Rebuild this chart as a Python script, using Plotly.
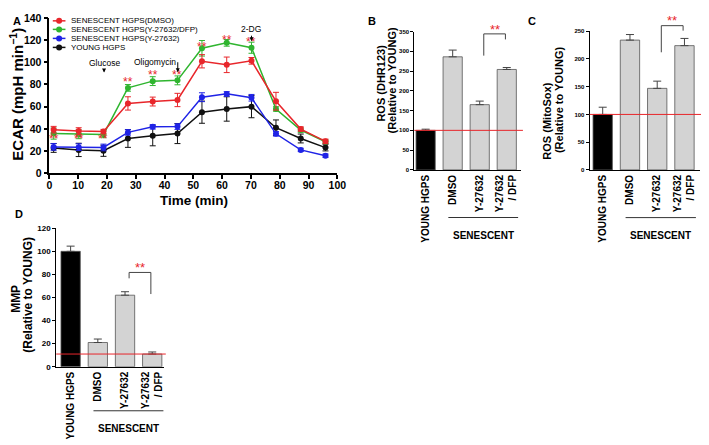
import plotly.graph_objects as go

# Panel A: ECAR time course
time_min = [1.5, 10.2, 18.8, 27.3, 35.9, 44.5, 53.0, 61.6, 70.2, 78.7, 87.3, 95.9]
ecar_dmso = [39.2, 38.0, 37.5, 62.9, 64.6, 66.0, 100.9, 97.7, 101.3, 64.9, 39.8, 28.7]
ecar_dmso_err = [3, 3, 2, 6, 4, 6, 6, 7, 3, 8, 2, 2]
ecar_dfp = [35.7, 35.1, 35.0, 76.9, 83.0, 83.7, 112.6, 117.5, 113.1, 57.9, 38.9, 28.4]
ecar_dfp_err = [5, 4, 3, 3, 4, 4, 7, 3, 5, 2, 2, 1.5]
ecar_y27632 = [23.7, 23.5, 23.2, 36.8, 41.8, 42.0, 68.5, 71.5, 68.0, 35.5, 21.0, 15.8]
ecar_y27632_err = [3, 3, 3, 2.5, 2, 2.5, 4, 2, 3, 2, 1.5, 1.5]
ecar_young = [22.8, 21.0, 20.2, 31.3, 33.7, 35.7, 55.0, 57.9, 60.0, 41.0, 31.3, 23.1]
ecar_young_err = [4, 6, 5, 8, 9, 9, 10, 11, 10, 7, 4, 3]
star_y = [31.0, 31.0, 31.0, 82.5, 88.5, 88.5, 113.5, 120.0, 118.0]

inject_labels = ['Glucose', 'Oligomycin', '2-DG']
inject_time = [19.0, 44.6, 70.2]
inject_tip = [90.7, 91.0, 119.0]

# Panels B-D: bar charts
groups = ['YOUNG HGPS', 'DMSO', 'Y-27632', 'Y-27632<br>/ DFP']
ros_dhr123 = [100, 286, 165, 254]
ros_dhr123_err = [3, 17, 9, 5]
ros_mitosox = [100, 234, 147, 224]
ros_mitosox_err = [13, 10, 13, 13]
mmp = [100, 21, 62, 11]
mmp_err = [4.5, 3, 3, 1.8]
ref_line = [100, 100, 11]

# the page body has an 8px margin, so the figure is drawn 8px in from the window corner
OFF = 8
W, H = 709 - OFF, 445 - OFF
FONT = 'Liberation Sans, Arial, sans-serif'
RED, GREEN, BLUE, BLACK = '#e8262b', '#2fb52f', '#1f23e6', '#111111'


def px(x):
    return (x - OFF) / W


def py(y):
    return 1 - (y - OFF) / H


fig = go.Figure()

# ECAR lines
series = [
    ('SENESCENT HGPS(DMSO)', ecar_dmso, ecar_dmso_err, RED),
    ('SENESCENT HGPS(Y-27632/DFP)', ecar_dfp, ecar_dfp_err, GREEN),
    ('SENESCENT HGPS(Y-27632)', ecar_y27632, ecar_y27632_err, BLUE),
    ('YOUNG HGPS', ecar_young, ecar_young_err, BLACK),
]
for name, vals, err, col in reversed(series):
    fig.add_trace(go.Scatter(
        x=time_min, y=vals, mode='lines+markers', name=name, showlegend=False,
        line=dict(color=col, width=1.5), marker=dict(color=col, size=6),
        error_y=dict(type='data', array=err, color=col, thickness=1, width=3),
        xaxis='x', yaxis='y'))

# bars
panels = [('2', ros_dhr123, ros_dhr123_err, 350), ('3', ros_mitosox, ros_mitosox_err, 250),
          ('4', mmp, mmp_err, 120)]
for ax, vals, err, top in panels:
    fig.add_trace(go.Bar(
        x=list(range(len(groups))), y=vals, width=0.71, showlegend=False,
        marker=dict(color=['#000000'] + ['#d3d3d3'] * 3, line=dict(color='#555555', width=0.8)),
        error_y=dict(type='data', array=err, arrayminus=[0] * len(err), symmetric=False,
                     color='#444444', thickness=1, width=4),
        xaxis='x' + ax, yaxis='y' + ax))

annotations = []
shapes = []


def text(x, y, s, size, bold=True, color='black', angle=0, xref='paper', yref='paper',
         xanchor='center', yanchor='middle'):
    annotations.append(dict(
        x=x, y=y, xref=xref, yref=yref, text=s, showarrow=False, textangle=angle,
        xanchor=xanchor, yanchor=yanchor,
        font=dict(family=FONT, size=size, color=color, weight='bold' if bold else 'normal')))


# panel letters
text(px(14), py(15), 'A', 11)
text(px(375), py(15), 'B', 11)
text(px(538), py(15), 'C', 11)
text(px(16), py(214), 'D', 11)

# axis titles
text(px(14), py(90), 'ECAR (mpH min<sup>\u22121</sup>)', 15, angle=-90)
text(px(194), py(200), 'Time (min)', 13.5)
text(px(385), py(79), 'ROS (DHR123)', 11, angle=-90)
text(px(396), py(76), '(Relative to YOUNG)', 11, angle=-90)
text(px(553), py(118), 'ROS (MitoSox)', 11, angle=-90)
text(px(565), py(96), '(Relative to YOUNG)', 11, angle=-90)
text(px(13), py(301), 'MMP', 12, angle=-90)
text(px(25), py(297), '(Relative to YOUNG)', 12, angle=-90)

# manual legend for panel A
leg_rows = [0.981, 0.926, 0.868, 0.810]
for (name, vals, err, col), ry in zip(series, leg_rows):
    shapes.append(dict(type='line', xref='x domain', yref='y domain', x0=0.012, x1=0.056,
                       y0=ry, y1=ry, line=dict(color=col, width=1.5)))
    shapes.append(dict(type='circle', xref='x domain', yref='y domain', xsizemode='pixel',
                       ysizemode='pixel', xanchor=0.034, yanchor=ry, x0=-3, x1=3, y0=-3, y1=3,
                       fillcolor=col, line=dict(color=col, width=0)))
    text(0.07, ry, name, 8, bold=False, xref='x domain', yref='y domain', xanchor='left')

# significance stars in A
for t, sy in zip(time_min, star_y):
    text(t, sy, '**', 12, bold=False, color=RED, xref='x', yref='y')

# injection labels with arrows (Oligomycin label sits left of its arrow)
arrow_anchor = ['center', 'right', 'center']
arrow_rise = [-10, -10, -12]
for lab, t, tip, xa, rise in zip(inject_labels, inject_time, inject_tip, arrow_anchor, arrow_rise):
    annotations.append(dict(x=t, y=tip, xref='x', yref='y', text=lab, showarrow=True,
                            ax=0, ay=rise, xanchor=xa, arrowhead=2, arrowsize=0.8,
                            arrowwidth=1, arrowcolor='black',
                            font=dict(family=FONT, size=8.5, color='black')))

# bar panel decorations: reference line, bracket, stars, SENESCENT bar
brackets = {'2': (289, 344, 330), '3': (212, 260, 251), '4': (76.6, 81.7, 63)}
sen_y = {'2': (-0.344, -0.42), '3': (-0.344, -0.42), '4': (-0.318, -0.395)}
for (ax, vals, err, top), ref in zip(panels, ref_line):
    shapes.append(dict(type='line', xref='x%s domain' % ax, yref='y' + ax, x0=0, x1=1.02,
                       y0=ref, y1=ref, line=dict(color='#e8262b', width=1)))
    yl, yt, yr = brackets[ax]
    xs = [2.15, 2.15, 2.95, 2.95]
    ys = [yl, yt, yt, yr]
    for i in range(3):
        shapes.append(dict(type='line', xref='x' + ax, yref='y%s domain' % ax,
                           x0=xs[i], x1=xs[i + 1], y0=ys[i] / top, y1=ys[i + 1] / top,
                           line=dict(color='#444444', width=1)))
    text(2.55, yt / top + 0.035, '**', 13, bold=False, color=RED,
         xref='x' + ax, yref='y%s domain' % ax)
    ly, ty = sen_y[ax]
    shapes.append(dict(type='line', xref='x' + ax, yref='y%s domain' % ax, x0=0.84, x1=3.42,
                       y0=ly, y1=ly, line=dict(color='#333333', width=1)))
    text(2.13, ty, 'SENESCENT', 10, xref='x' + ax, yref='y%s domain' % ax, yanchor='top')

axis_line = dict(showline=True, linecolor='black', showgrid=False, zeroline=False,
                 ticks='outside', tickcolor='black', mirror=False)

fig.update_layout(
    width=W, height=H, margin=dict(l=0, r=0, t=0, b=0),
    paper_bgcolor='white', plot_bgcolor='white',
    font=dict(family=FONT, color='black'),
    xaxis=dict(domain=[px(47), px(340)], range=[0, 100], dtick=10, linewidth=1.5, ticklen=4,
               tickwidth=1.5, tickfont=dict(size=10.5, weight='bold'), anchor='y',
               ticklabelstandoff=-3, **axis_line),
    yaxis=dict(domain=[py(171.7), py(12)], range=[0, 140], dtick=20, linewidth=1.5, ticklen=4,
               tickwidth=1.5, tickfont=dict(size=10.5, weight='bold'), anchor='x',
               **axis_line),
    annotations=annotations, shapes=shapes,
)

bar_dom = {
    '2': ([px(418.3), px(526.7)], [py(168.3), py(26)], [-0.42, 3.52], 50, 6),
    '3': ([px(596.7), 1.0], [py(168.3), py(25.7)], [-0.48, 3.57], 50, 6),
    '4': ([px(54), px(163.3)], [py(370.7), py(228.3)], [-0.53, 3.42], 20, 8),
}
for ax, vals, err, top in panels:
    xd, yd, xr, dt, fs = bar_dom[ax]
    fig.update_layout({
        'xaxis' + ax: dict(domain=xd, range=xr, anchor='y' + ax, showline=True, linecolor='black',
                           linewidth=1, showgrid=False, zeroline=False, ticks='',
                           tickvals=list(range(len(groups))), ticktext=groups, tickangle=-90,
                           tickfont=dict(size=10, weight='bold')),
        'yaxis' + ax: dict(domain=yd, range=[0, top], dtick=dt, anchor='x' + ax, showline=True,
                           linecolor='black', linewidth=1, showgrid=False, zeroline=False,
                           ticks='outside', ticklen=3, tickwidth=1, tickcolor='black',
                           tickfont=dict(size=fs, weight='bold')),
    })

fig.write_html('out.html')
